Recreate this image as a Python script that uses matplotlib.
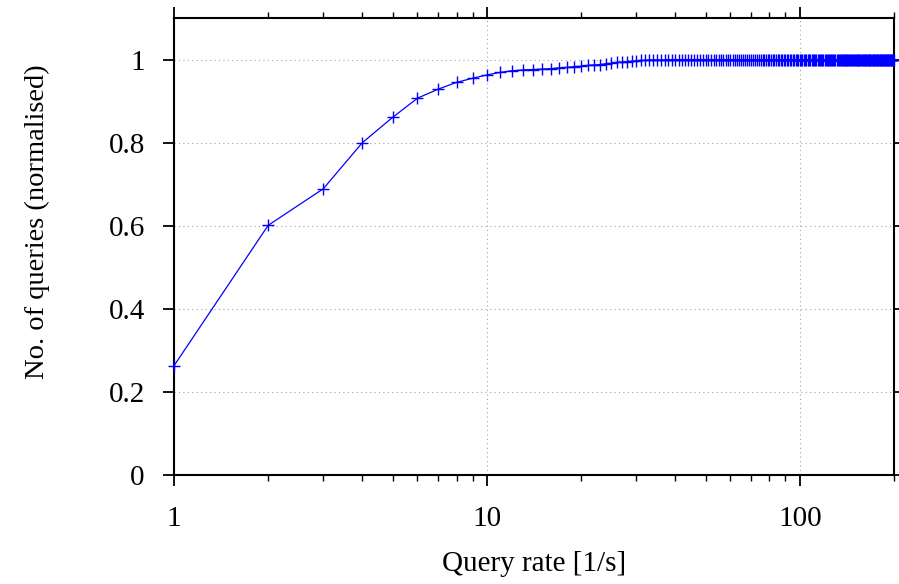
import matplotlib
matplotlib.use('Agg')
import matplotlib.pyplot as plt
from matplotlib.ticker import LogLocator, FixedLocator, NullFormatter

# query rate (1/s) and cumulative share of queries
rate_head = list(range(1, 41))
share_head = [0.263, 0.601, 0.689, 0.800, 0.861, 0.907, 0.929, 0.945, 0.955, 0.963,
              0.969, 0.973, 0.975, 0.976, 0.977, 0.978, 0.980, 0.981, 0.983, 0.984,
              0.986, 0.987, 0.988, 0.990, 0.991, 0.993, 0.994, 0.995, 0.996, 0.997,
              0.998, 0.998, 0.999, 0.999, 0.999, 0.999, 0.999, 1.000, 1.000, 1.000]
# from 41/s upward every rate is already at 1.0
rate_tail = list(range(41, 201))
share_tail = [1.0] * len(rate_tail)

rates = rate_head + rate_tail
shares = share_head + share_tail

x_ticks = [1, 10, 100]
x_labels = ['1', '10', '100']
y_ticks = [0, 0.2, 0.4, 0.6, 0.8, 1.0]
y_labels = ['0', '0.2', '0.4', '0.6', '0.8', '1']

plt.rcParams['font.family'] = ['Liberation Serif', 'DejaVu Serif']

fig = plt.figure(figsize=(8.99, 5.84), dpi=100)
ax = fig.add_axes([174 / 899, 1 - 475 / 584, 720 / 899, 457 / 584])

ax.plot(rates, shares, color='#0000ff', lw=0.9, marker='+', ms=8, mew=1.0,
        clip_on=False, zorder=3)

ax.set_xscale('log')
ax.set_xlim(1, 200)
ax.set_ylim(0, 1.1)

ax.xaxis.set_major_locator(FixedLocator(x_ticks))
ax.set_xticklabels(x_labels)
ax.xaxis.set_minor_locator(LogLocator(base=10, subs=range(2, 10)))
ax.xaxis.set_minor_formatter(NullFormatter())
ax.set_yticks(y_ticks)
ax.set_yticklabels(y_labels)

ax.tick_params(which='major', direction='out', length=8, width=1.3, labelsize=21,
               top=True, right=True, colors='black')
ax.tick_params(which='minor', direction='out', length=4, width=1.0, top=True, right=False)
ax.tick_params(axis='x', which='major', pad=14)
ax.tick_params(axis='y', which='major', pad=13)

for s in ax.spines.values():
    s.set_linewidth(1.5)

ax.grid(True, which='major', color='#a0a0a0', ls=(0, (1, 3)), lw=0.8)
ax.set_axisbelow(True)

ax.set_xlabel('Query rate [1/s]', fontsize=21, labelpad=14)
ax.set_ylabel('No. of queries (normalised)', fontsize=20.5)
# y label sits a bit above the axis middle
ax.yaxis.set_label_coords(-0.172, 0.554)

fig.savefig('out.png', dpi=100)
